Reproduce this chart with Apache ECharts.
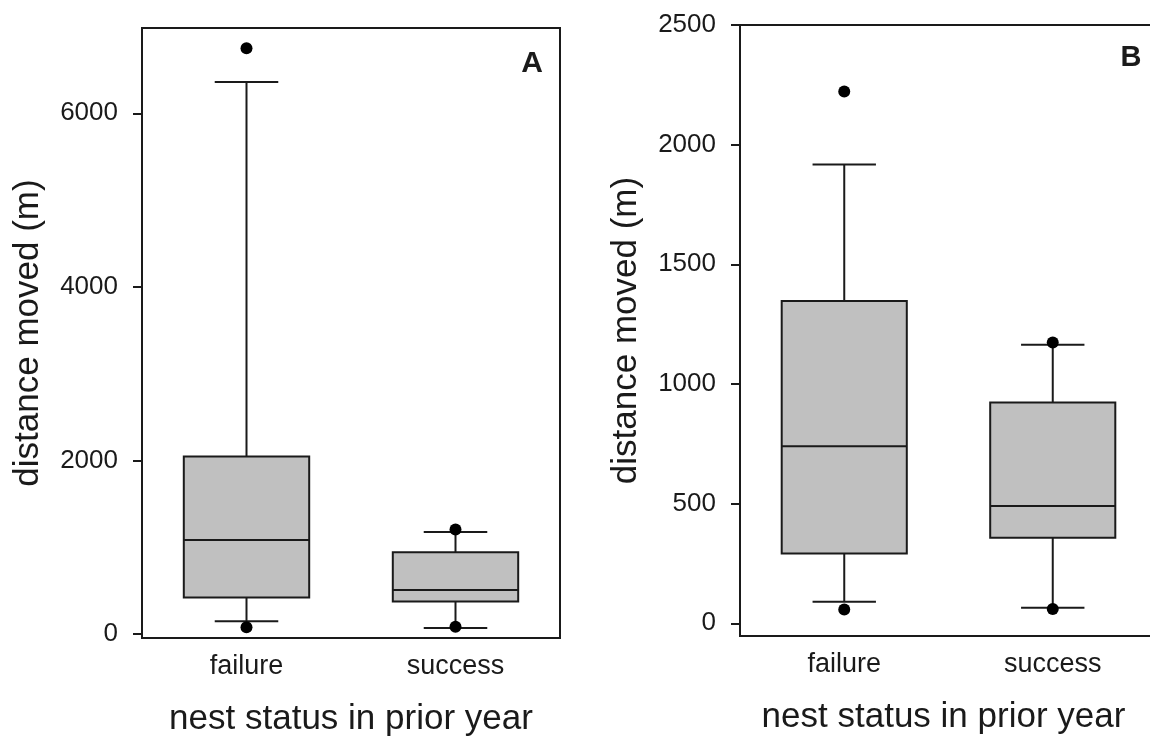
<!DOCTYPE html>
<html>
<head>
<meta charset="utf-8">
<script src="https://cdn.jsdelivr.net/npm/echarts@6/dist/echarts.min.js"></script>
<style>
html,body{margin:0;padding:0;background:#fff;}
#chart{width:1150px;height:737px;}
</style>
</head>
<body>
<div id="chart"></div>
<script>
// ---- data ----
const categories = ['failure', 'success'];
// [low whisker, Q1, median, Q3, high whisker]
const statsA = [[146, 422, 1084, 2046, 6360], [69, 376, 506, 942, 1176]];
const outliersA = [[0, 6750], [0, 77], [1, 1204], [1, 84]];
const statsB = [[90, 292, 740, 1347, 1917], [65, 358, 490, 923, 1164]];
const outliersB = [[0, 2222], [0, 58], [1, 1173], [1, 60]];
const ticksA = [0, 2000, 4000, 6000];
const ticksB = [0, 500, 1000, 1500, 2000, 2500];
const yTitle = 'distance moved (m)';
const xTitle = 'nest status in prior year';
const panelLabels = ['A', 'B'];

// ---- styles ----
const FONT = 'Liberation Sans, Arial, sans-serif';
const INK = '#1a1a1a';
const FILL = '#c0c0c0';

function boxData(stats) {
  return stats.map((s, i) => [i].concat(s));
}

function renderBox(params, api) {
  const x = api.value(0);
  const band = api.size([1, 0])[0];
  const bw = band * 0.6;
  const cw = band * 0.152;
  const pLow = api.coord([x, api.value(1)]);
  const pQ1 = api.coord([x, api.value(2)]);
  const pMed = api.coord([x, api.value(3)]);
  const pQ3 = api.coord([x, api.value(4)]);
  const pHigh = api.coord([x, api.value(5)]);
  const cx = pMed[0];
  const ls = { stroke: INK, lineWidth: 2, fill: null };
  return {
    type: 'group',
    children: [
      { type: 'line', shape: { x1: cx, y1: pQ3[1], x2: cx, y2: pHigh[1] }, style: ls },
      { type: 'line', shape: { x1: cx, y1: pQ1[1], x2: cx, y2: pLow[1] }, style: ls },
      { type: 'line', shape: { x1: cx - cw, y1: pHigh[1], x2: cx + cw, y2: pHigh[1] }, style: ls },
      { type: 'line', shape: { x1: cx - cw, y1: pLow[1], x2: cx + cw, y2: pLow[1] }, style: ls },
      { type: 'rect', shape: { x: cx - bw / 2, y: pQ3[1], width: bw, height: pQ1[1] - pQ3[1] },
        style: { fill: FILL, stroke: INK, lineWidth: 2 } },
      { type: 'line', shape: { x1: cx - bw / 2, y1: pMed[1], x2: cx + bw / 2, y2: pMed[1] }, style: ls }
    ]
  };
}

function xAxisCfg(gi, namePad) {
  return {
    type: 'category', gridIndex: gi, data: categories, boundaryGap: true, position: 'bottom',
    axisLine: { show: true, onZero: false, lineStyle: { color: INK, width: 2 } },
    axisTick: { show: false },
    axisLabel: { color: INK, fontSize: 27, fontFamily: FONT, margin: 15 },
    name: xTitle, nameLocation: 'middle', nameGap: 64,
    nameTextStyle: { color: INK, fontSize: 35, fontFamily: FONT, padding: namePad },
    splitLine: { show: false }
  };
}

function yAxisCfg(gi, min, max, ticks) {
  return {
    type: 'value', gridIndex: gi, min: min, max: max,
    axisLine: { show: true, onZero: false, lineStyle: { color: INK, width: 2 } },
    axisTick: { show: true, inside: false, length: 9, lineStyle: { color: INK, width: 2 }, customValues: ticks },
    axisLabel: { color: INK, fontSize: 26, fontFamily: FONT, margin: 24, customValues: ticks,
      formatter: function (v) { return String(v); } },
    splitLine: { show: false },
    name: yTitle, nameLocation: 'middle', nameGap: 96, nameRotate: 90,
    nameTextStyle: { color: INK, fontSize: 35, fontFamily: FONT }
  };
}

const chart = echarts.init(document.getElementById('chart'), null, { renderer: 'canvas' });
chart.setOption({
  backgroundColor: '#fff',
  animation: false,
  grid: [
    { left: 142, top: 28, width: 418, height: 610, show: true, borderColor: INK, borderWidth: 2,
      backgroundColor: 'transparent', outerBoundsMode: 'none', containLabel: false },
    { left: 740, top: 25, width: 417, height: 611, show: true, borderColor: INK, borderWidth: 2,
      backgroundColor: 'transparent', outerBoundsMode: 'none', containLabel: false }
  ],
  xAxis: [xAxisCfg(0, [0, 0, 0, 0]), xAxisCfg(1, [0, 10, 0, 0])],
  yAxis: [yAxisCfg(0, -46, 6983, ticksA), yAxisCfg(1, -53, 2500, ticksB)],
  series: [
    { type: 'custom', xAxisIndex: 0, yAxisIndex: 0, data: boxData(statsA), renderItem: renderBox, z: 2 },
    { type: 'scatter', xAxisIndex: 0, yAxisIndex: 0, data: outliersA, symbol: 'circle', symbolSize: 12,
      itemStyle: { color: '#000', opacity: 1 }, z: 5 },
    { type: 'custom', xAxisIndex: 1, yAxisIndex: 1, data: boxData(statsB), renderItem: renderBox, z: 2 },
    { type: 'scatter', xAxisIndex: 1, yAxisIndex: 1, data: outliersB, symbol: 'circle', symbolSize: 12,
      itemStyle: { color: '#000', opacity: 1 }, z: 5 }
  ],
  graphic: [
    { type: 'text', x: 532, y: 64, style: { text: panelLabels[0], font: 'bold 30px ' + FONT, fill: INK, align: 'center', verticalAlign: 'middle' } },
    { type: 'text', x: 1131, y: 58, style: { text: panelLabels[1], font: 'bold 29px ' + FONT, fill: INK, align: 'center', verticalAlign: 'middle' } }
  ]
});
</script>
</body>
</html>
